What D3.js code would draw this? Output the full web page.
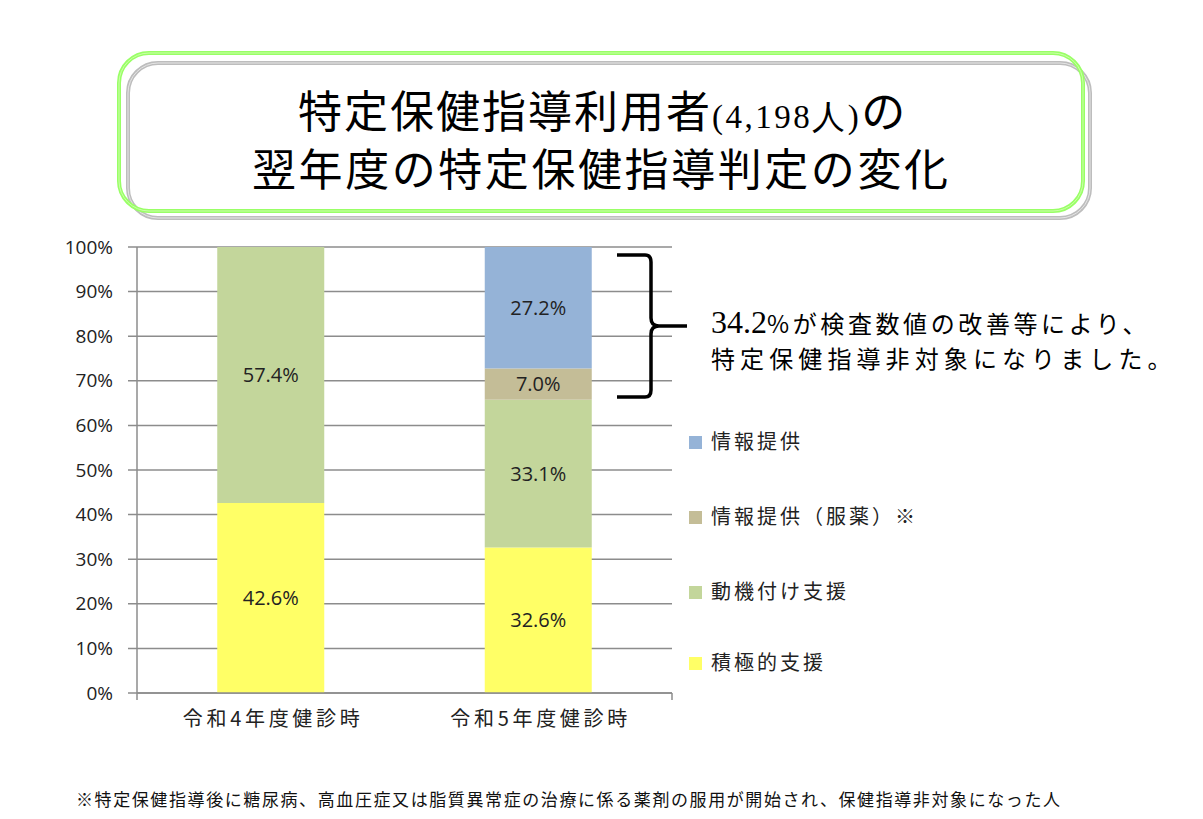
<!DOCTYPE html>
<html><head><meta charset="utf-8">
<script src="https://cdn.jsdelivr.net/npm/d3@7"></script>
<style>body{margin:0;background:#fff}svg{display:block}</style>
</head><body>
<svg id="c" width="1203" height="819"></svg>
<script>
const categories = ["令和4年度健診時", "令和5年度健診時"];
const seriesNames = ["積極的支援", "動機付け支援", "情報提供(服薬)", "情報提供"];
const legendLabels = ["積極的支援", "動機付け支援", "情報提供（服薬）※", "情報提供"];
const seriesColors = ["#FFFF66", "#C3D69B", "#C4BD97", "#95B3D7"];
const valuesR4 = [42.6, 57.4, 0, 0];
const valuesR5 = [32.6, 33.1, 7.0, 27.2];
const yTicks = [0, 10, 20, 30, 40, 50, 60, 70, 80, 90, 100];

const svg = d3.select("#c");
const jp = "'Noto Sans CJK JP','Noto Sans',sans-serif";
const lat = "'Open Sans','Noto Sans',sans-serif";

// Title box
const g0 = svg.append("g");
g0.append("rect").attr("x",128).attr("y",63).attr("width",962).attr("height",155).attr("rx",30)
  .attr("fill","none").attr("stroke","#BDBDBD").attr("stroke-width",4);
g0.append("rect").attr("x",128).attr("y",63).attr("width",962).attr("height",155).attr("rx",30)
  .attr("fill","none").attr("stroke","#E6E6E6").attr("stroke-width",1);
g0.append("rect").attr("x",119).attr("y",53).attr("width",964).attr("height",158).attr("rx",30)
  .attr("fill","none").attr("stroke","#99FF66").attr("stroke-width",4);
g0.append("rect").attr("x",119).attr("y",53).attr("width",964).attr("height",158).attr("rx",30)
  .attr("fill","none").attr("stroke","#CCFFAA").attr("stroke-width",1);

const t1 = g0.append("text").attr("x",298).attr("y",128).attr("font-family",jp).attr("fill","#000");
t1.append("tspan").attr("font-size",44).attr("letter-spacing",2).text("特定保健指導利用者");
t1.append("tspan").attr("font-size",33).attr("letter-spacing",2.5).attr("font-family","'Liberation Serif',serif").text("(4,198人)");
t1.append("tspan").attr("font-size",44).text("の");
g0.append("text").attr("x",252).attr("y",186).attr("font-family",jp).attr("font-size",44)
  .attr("textLength",696).attr("lengthAdjust","spacing").text("翌年度の特定保健指導判定の変化");

// Chart
const x0 = 137, x1 = 672, yTop = 247, yBot = 693;
const x = d3.scaleBand().domain(categories).range([x0, x1]).paddingInner(0.6).paddingOuter(0.3);
const y = d3.scaleLinear().domain([0, 100]).range([yBot, yTop]);

const gridG = svg.append("g");
yTicks.forEach(t => {
  gridG.append("line").attr("x1",128).attr("x2",x1).attr("y1",y(t)).attr("y2",y(t))
    .attr("stroke","#8C8C8C").attr("stroke-width",1.5);
});
const yAxis = svg.append("g").attr("transform",`translate(${x0},0)`)
  .call(d3.axisLeft(y).tickValues(yTicks).tickFormat(d => d + "%").tickSize(0).tickPadding(24));
yAxis.select(".domain").remove();
yAxis.selectAll("text").attr("font-family",lat).attr("font-size",19).attr("fill","#222");

const data = categories.map((c, i) => {
  const vals = i === 0 ? valuesR4 : valuesR5;
  const tot = d3.sum(vals);
  const o = {cat: c};
  seriesNames.forEach((s, j) => o[s] = vals[j] / tot * 100);
  o.raw = vals;
  return o;
});
const stack = d3.stack().keys(seriesNames)(data);
const barG = svg.append("g");
stack.forEach((layer, j) => {
  layer.forEach((d, i) => {
    if (d[1] - d[0] <= 0) return;
    barG.append("rect").attr("x", x(categories[i])).attr("width", x.bandwidth())
      .attr("y", y(d[1])).attr("height", y(d[0]) - y(d[1])).attr("fill", seriesColors[j]);
    barG.append("text").attr("x", x(categories[i]) + x.bandwidth()/2)
      .attr("y", (y(d[0]) + y(d[1]))/2).attr("dy","0.35em").attr("text-anchor","middle")
      .attr("font-family",lat).attr("font-size",20).attr("fill","#222")
      .text(data[i].raw[j].toFixed(1) + "%");
  });
});

// axis lines
svg.append("line").attr("x1",x0).attr("x2",x0).attr("y1",yTop).attr("y2",700).attr("stroke","#8C8C8C").attr("stroke-width",1.5);
svg.append("line").attr("x1",x1).attr("x2",x1).attr("y1",yBot).attr("y2",700).attr("stroke","#8C8C8C").attr("stroke-width",1.5);
svg.append("line").attr("x1",x0).attr("x2",x1).attr("y1",yBot).attr("y2",yBot).attr("stroke","#8C8C8C").attr("stroke-width",1.5);

categories.forEach(c => {
  svg.append("text").attr("x", x(c) + x.bandwidth()/2 - 88).attr("y", 726)
    .attr("font-family",jp).attr("font-size",20).attr("fill","#222")
    .attr("textLength",177).attr("lengthAdjust","spacing").text(c);
});

// Legend
const legendY = [663, 592, 517, 442];
legendLabels.forEach((l, j) => {
  svg.append("rect").attr("x",689).attr("y",legendY[j]-6).attr("width",13).attr("height",13).attr("fill",seriesColors[j]);
  svg.append("text").attr("x",711).attr("y",legendY[j]).attr("dy","0.35em")
    .attr("font-family",jp).attr("font-size",20).attr("fill","#222")
    .attr("letter-spacing",3).text(l);
});

// Bracket
svg.append("path")
  .attr("d","M617,255 L645,255 Q651,255 651,262 L651,318 Q651,326 659,326 L687,326 M659,326 Q651,326 651,334 L651,390 Q651,397 645,397 L617,397")
  .attr("fill","none").attr("stroke","#000").attr("stroke-width",3.5);

svg.append("text").attr("x",711).attr("y",333).attr("font-family",jp).attr("font-size",24).attr("fill","#000")
  .call(t => {
    t.append("tspan").attr("font-family","'Liberation Serif',serif").attr("font-size",32).text("34.2");
    t.append("tspan").attr("letter-spacing",3.6).text("%が検査数値の改善等により、");
  });
svg.append("text").attr("x",711).attr("y",368).attr("font-family",jp).attr("font-size",24).attr("fill","#000")
  .attr("letter-spacing",5.1).text("特定保健指導非対象になりました。");

// Footnote
svg.append("text").attr("x",76).attr("y",806).attr("font-family",jp).attr("font-size",17).attr("fill","#111")
  .attr("textLength",984).attr("lengthAdjust","spacing")
  .text("※特定保健指導後に糖尿病、高血圧症又は脂質異常症の治療に係る薬剤の服用が開始され、保健指導非対象になった人");
</script>
</body></html>
